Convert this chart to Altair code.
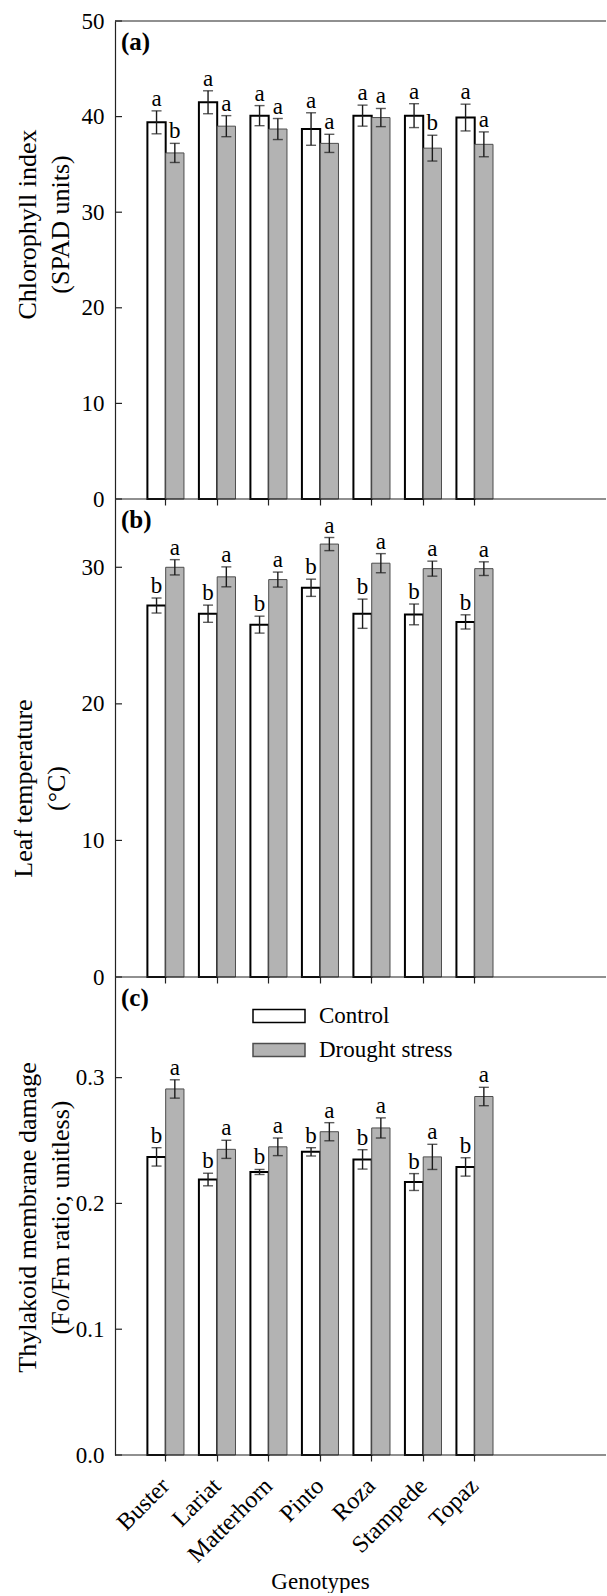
import altair as alt
import pandas as pd

# ---------------- data ----------------
genotypes = ["Buster", "Lariat", "Matterhorn", "Pinto", "Roza", "Stampede", "Topaz"]
treatments = ["Control", "Drought stress"]

# (a) Chlorophyll index (SPAD units)
chl_control = [39.4, 41.5, 40.1, 38.7, 40.1, 40.1, 39.9]
chl_control_se = [1.2, 1.2, 1.05, 1.7, 1.1, 1.25, 1.4]
chl_drought = [36.2, 39.0, 38.7, 37.2, 39.9, 36.7, 37.1]
chl_drought_se = [1.0, 1.1, 1.1, 0.95, 0.95, 1.35, 1.3]
chl_letters_control = ["a", "a", "a", "a", "a", "a", "a"]
chl_letters_drought = ["b", "a", "a", "a", "a", "b", "a"]
chl_ticks = [0, 10, 20, 30, 40, 50]

# (b) Leaf temperature (°C)
temp_control = [27.2, 26.6, 25.8, 28.5, 26.6, 26.55, 26.0]
temp_control_se = [0.55, 0.63, 0.62, 0.63, 1.07, 0.76, 0.52]
temp_drought = [30.0, 29.3, 29.1, 31.7, 30.3, 29.9, 29.9]
temp_drought_se = [0.56, 0.73, 0.55, 0.48, 0.7, 0.55, 0.5]
temp_letters_control = ["b", "b", "b", "b", "b", "b", "b"]
temp_letters_drought = ["a", "a", "a", "a", "a", "a", "a"]
temp_ticks = [0, 10, 20, 30]

# (c) Thylakoid membrane damage (Fo/Fm ratio)
fofm_control = [0.237, 0.219, 0.225, 0.241, 0.235, 0.217, 0.229]
fofm_control_se = [0.0073, 0.005, 0.002, 0.0033, 0.0077, 0.0067, 0.0073]
fofm_drought = [0.291, 0.243, 0.245, 0.257, 0.260, 0.237, 0.285]
fofm_drought_se = [0.0073, 0.0072, 0.007, 0.0072, 0.008, 0.01, 0.0073]
fofm_letters_control = ["b", "b", "b", "b", "b", "b", "b"]
fofm_letters_drought = ["a", "a", "a", "a", "a", "a", "a"]
fofm_ticks = [0.0, 0.1, 0.2, 0.3]

FONT = "Liberation Serif"
AX = "#222222"


def make_df(ctrl, ctrl_se, dr, dr_se, let_c, let_d):
    rows = []
    for i, g in enumerate(genotypes):
        rows.append(dict(Genotype=g, Treatment=treatments[0], Mean=ctrl[i], SE=ctrl_se[i], Letter=let_c[i]))
        rows.append(dict(Genotype=g, Treatment=treatments[1], Mean=dr[i], SE=dr_se[i], Letter=let_d[i]))
    df = pd.DataFrame(rows)
    df["Lo"] = df["Mean"] - df["SE"]
    df["Hi"] = df["Mean"] + df["SE"]
    return df


x_scale = alt.Scale(domain=genotypes, paddingInner=0.29, paddingOuter=0, range=[32.4, 378])
xo_scale = alt.Scale(domain=treatments, paddingInner=0, paddingOuter=0)
fill_scale = alt.Scale(domain=treatments, range=["#ffffff", "#b3b3b3"])
stroke_scale = alt.Scale(domain=treatments, range=["#000000", "#4d4d4d"])


def panel(df, ymax, ticks, fmt, title, title_x, title_y, tag, bottom, legend, top_rule):
    y_scale = alt.Scale(domain=[0, ymax], nice=False, zero=True)
    x_axis = alt.Axis(
        title="Genotypes" if bottom else None,
        labels=bottom, ticks=True, tickSize=6, domain=False, grid=False,
        labelAngle=315, labelAlign="right", labelBaseline="middle",
        labelFontSize=24, labelPadding=21,
        titleX=205, titleY=133, titleBaseline="alphabetic", titleAlign="center",
        titleFontSize=23, titleFontWeight="normal",
    )
    y_axis = alt.Axis(
        values=ticks, format=fmt, ticks=False, tickSize=0, grid=False, domain=True,
        labelPadding=11, labelFontSize=23, labelFlush=False,
        title=title, titleAngle=270, titleX=title_x, titleY=title_y,
        titleAlign="center", titleBaseline="bottom", titleFontSize=26,
        titleFontWeight="normal", titleLineHeight=33,
    )
    base = alt.Chart(df)
    xenc = alt.X("Genotype:N", sort=genotypes, scale=x_scale)
    xoenc = alt.XOffset("Treatment:N", sort=treatments, scale=xo_scale)

    bars = base.mark_bar().encode(
        x=alt.X("Genotype:N", sort=genotypes, scale=x_scale, axis=x_axis),
        xOffset=xoenc,
        y=alt.Y("Mean:Q", scale=y_scale, axis=y_axis),
        fill=alt.Fill("Treatment:N", scale=fill_scale, legend=legend),
        stroke=alt.Stroke("Treatment:N", scale=stroke_scale, legend=legend),
        strokeWidth=alt.condition("datum.Treatment == 'Control'", alt.value(2), alt.value(1)),
    )
    err = base.mark_rule(color="#1a1a1a", strokeWidth=1.4).encode(
        x=xenc, xOffset=xoenc,
        y=alt.Y("Lo:Q", scale=y_scale), y2="Hi:Q",
    )
    cap_hi = base.mark_tick(color="#1a1a1a", thickness=1.4, size=10, orient="horizontal").encode(
        x=xenc, xOffset=xoenc, y=alt.Y("Hi:Q", scale=y_scale)
    )
    cap_lo = base.mark_tick(color="#1a1a1a", thickness=1.4, size=10, orient="horizontal").encode(
        x=xenc, xOffset=xoenc, y=alt.Y("Lo:Q", scale=y_scale)
    )
    letters = base.mark_text(font=FONT, fontSize=23, baseline="alphabetic", dy=-5, color="black").encode(
        x=xenc, xOffset=xoenc, y=alt.Y("Hi:Q", scale=y_scale), text="Letter:N"
    )
    ytick = alt.Chart(pd.DataFrame({"v": ticks})).mark_rule(color=AX, strokeWidth=1.2).encode(
        y=alt.Y("v:Q", scale=y_scale), x=alt.value(0), x2=alt.value(7)
    )
    frame_vals = [0, ymax] if top_rule else [0]
    frame = alt.Chart(pd.DataFrame({"v": frame_vals})).mark_rule(color=AX, strokeWidth=1.2).encode(
        y=alt.Y("v:Q", scale=y_scale)
    )
    tag_mark = alt.Chart(pd.DataFrame({"t": [tag]})).mark_text(
        font=FONT, fontSize=25, fontWeight="bold", align="left", baseline="middle", color="black"
    ).encode(x=alt.value(6), y=alt.value(21), text="t:N")
    layers = [bars, err, cap_hi, cap_lo, letters, ytick, frame, tag_mark]
    return alt.layer(*layers).properties(width=491, height=478)


legend_c = alt.Legend(
    title=None, orient="none", legendX=150, legendY=25,
    symbolType="M-2,-0.5H2V0.5H-2Z", symbolSize=676, symbolStrokeWidth=1.5,
    labelFont=FONT, labelFontSize=23, labelColor="black", labelOffset=26,
    rowPadding=8, padding=0, labelLimit=400,
)

pa = panel(make_df(chl_control, chl_control_se, chl_drought, chl_drought_se,
                   chl_letters_control, chl_letters_drought),
           50, chl_ticks, "d", ["Chlorophyll index", "(SPAD units)"], -75, 203, "(a)",
           False, None, True)
pb = panel(make_df(temp_control, temp_control_se, temp_drought, temp_drought_se,
                   temp_letters_control, temp_letters_drought),
           35, temp_ticks, "d", ["Leaf temperature", "(\u00b0C)"], -79, 289, "(b)",
           False, None, False)
pc = panel(make_df(fofm_control, fofm_control_se, fofm_drought, fofm_drought_se,
                   fofm_letters_control, fofm_letters_drought),
           0.38, fofm_ticks, ".1f", ["Thylakoid membrane damage", "(Fo/Fm ratio; unitless)"],
           -75, 240, "(c)", True, legend_c, False)

chart = (
    alt.vconcat(pa, pb, pc, spacing=0, bounds="flush")
    .resolve_scale(y="independent", x="independent")
    .resolve_legend(fill="independent", stroke="independent")
    .properties(padding={"left": 10, "top": 10, "right": 0, "bottom": 0})
    .configure(font=FONT)
    .configure_view(stroke=None)
    .configure_axis(labelColor="black", titleColor="black", domainColor=AX, tickColor=AX,
                    domainWidth=1.2, tickWidth=1.2, labelFont=FONT, titleFont=FONT)
)

chart.save("out.html", embed_options={"renderer": "svg", "actions": False})
